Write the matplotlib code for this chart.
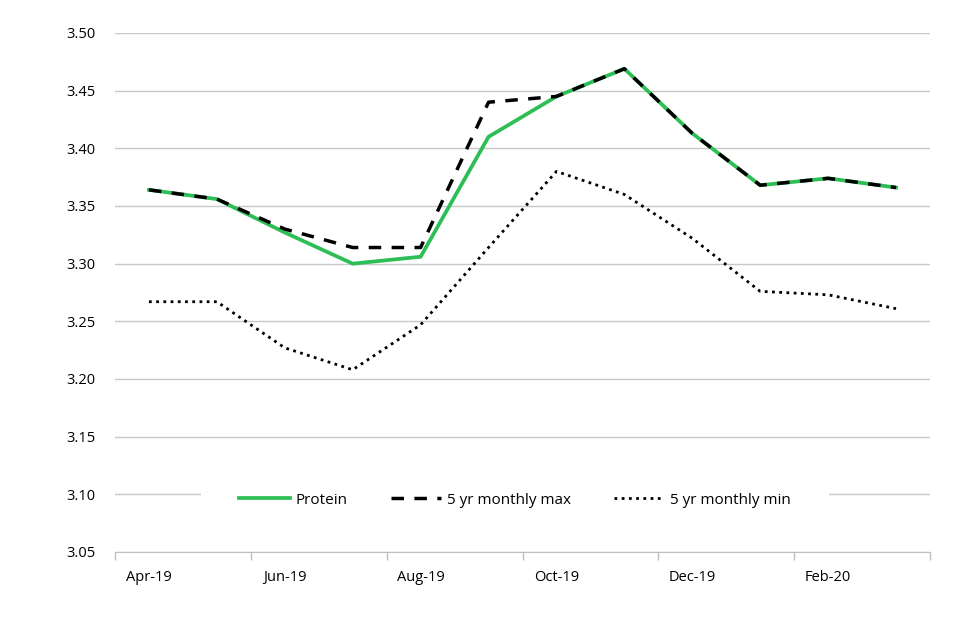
import matplotlib
matplotlib.use('Agg')
import matplotlib.pyplot as plt

# months on the category axis
months = ['Apr-19', 'May-19', 'Jun-19', 'Jul-19', 'Aug-19', 'Sep-19',
          'Oct-19', 'Nov-19', 'Dec-19', 'Jan-20', 'Feb-20', 'Mar-20']
# series values
protein = [3.364, 3.356, 3.327, 3.300, 3.306, 3.410,
           3.445, 3.469, 3.413, 3.368, 3.374, 3.366]
max5 = [3.364, 3.356, 3.330, 3.314, 3.314, 3.440,
        3.445, 3.469, 3.413, 3.368, 3.374, 3.366]
min5 = [3.267, 3.267, 3.227, 3.208, 3.247, 3.314,
        3.380, 3.360, 3.322, 3.276, 3.273, 3.261]
yticks = [3.05, 3.10, 3.15, 3.20, 3.25, 3.30, 3.35, 3.40, 3.45, 3.50]

plt.rcParams['font.family'] = ['Open Sans', 'DejaVu Sans']

fig = plt.figure(figsize=(9.6, 6.4), dpi=100)
ax = fig.add_axes([115/960, 1-552/640, 815/960, 519/640])

x = list(range(len(months)))
ax.plot(x, protein, color='#2dbe55', lw=2.7, label='Protein', zorder=3)
ax.plot(x, max5, color='black', lw=2.5, ls=(0, (3.6, 3)), label='5 yr monthly max', zorder=4)
ax.plot(x, min5, color='black', lw=2, ls=(0, (1, 1.6)), label='5 yr monthly min', zorder=4)

ax.set_xlim(-0.5, 11.5)
ax.set_ylim(3.05, 3.50)
ax.set_yticks(yticks)
ax.set_yticklabels(['%.2f' % v for v in yticks])
ax.yaxis.grid(True, color='#c8c8c8', lw=1)
ax.set_axisbelow(True)

ax.set_xticks(x[::2])
ax.set_xticklabels(months[::2])
ax.set_xticks([i - 0.5 for i in range(0, 13, 2)], minor=True)
ax.tick_params(axis='x', which='major', length=0, pad=13, labelsize=10.5)
ax.tick_params(axis='x', which='minor', length=6, color='#bfbfbf', width=1)
ax.tick_params(axis='y', length=0, pad=14, labelsize=10.5)

for s in ['top', 'right', 'left']:
    ax.spines[s].set_visible(False)
ax.spines['bottom'].set_color('#bfbfbf')

leg = ax.legend(loc='center', bbox_to_anchor=(0.491, 0.1), ncol=3, frameon=True,
                fontsize=11, handlelength=3.3, handletextpad=0.4,
                columnspacing=2.8, borderpad=2.5)
leg.get_frame().set_facecolor('white')
leg.get_frame().set_edgecolor('none')
leg.get_frame().set_alpha(1)

plt.savefig('out.png', dpi=100)
